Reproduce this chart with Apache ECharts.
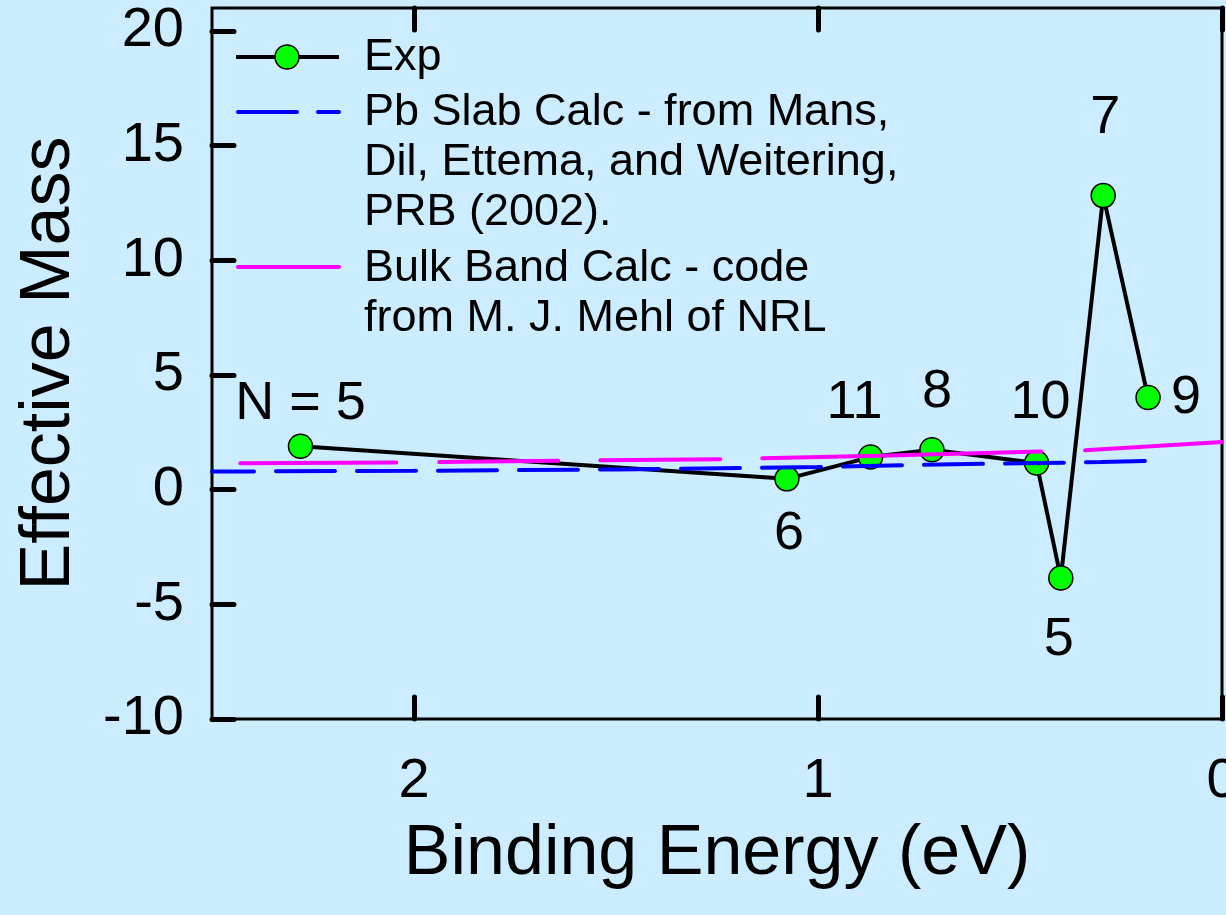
<!DOCTYPE html>
<html><head><meta charset="utf-8">
<script src="https://cdn.jsdelivr.net/npm/echarts@6/dist/echarts.min.js"></script>
<style>html,body{margin:0;padding:0;background:#CCECFF}#c{width:1226px;height:915px}</style>
</head><body><div id="c"></div>
<script>
// ---- data ----
const expEnergy = [2.281, 1.077, 0.870, 0.718, 0.459, 0.399, 0.294, 0.183];
const expMass   = [1.89, 0.47, 1.42, 1.74, 1.16, -3.85, 12.82, 4.02];
const expLabels = ['N = 5', '6', '11', '8', '10', '5', '7', '9'];
const slabEnergy = [2.5, 2.0, 1.5, 1.0, 0.75, 0.5, 0.3, 0.16];
const slabMass   = [0.79, 0.82, 0.88, 0.99, 1.08, 1.15, 1.20, 1.26];
const bulkEnergy = [2.43, 2.04, 1.64, 1.24, 0.85, 0.44, 0.345, 0];
const bulkMass   = [1.15, 1.18, 1.26, 1.33, 1.48, 1.67, 1.71, 2.08];
const xTickValues = [0, 1, 2];
const yTickValues = [-10, -5, 0, 5, 10, 15, 20];
const legendNames = ['Exp', 'Pb Slab Calc - from Mans,\nDil, Ettema, and Weitering,\nPRB (2002).', 'Bulk Band Calc - code\nfrom M. J. Mehl of NRL'];
const xTitle = 'Binding Energy (eV)';
const yTitle = 'Effective Mass';
const xMin = 0, xMax = 2.5, yMin = -10, yMax = 21;

// ---- styles ----
const labelOffsets = [[0,-42],[2,55],[-16,-54],[5,-58],[4,-60],[-2,62],[2,-78],[38,1]];
const FONT = '"Liberation Sans", Arial, sans-serif';
const GRID = {left: 212, right: 4, top: 8, bottom: 196};
const TICK_LEN = 22;

const chart = echarts.init(document.getElementById('c'), null, {renderer: 'canvas'});
const tickStyle = {color: '#000', width: 5, cap: 'round'};

chart.setOption({
  backgroundColor: '#CCECFF',
  animation: false,
  textStyle: {fontFamily: FONT, color: '#000'},
  grid: Object.assign({show: true, borderColor: '#000', borderWidth: 3,
    backgroundColor: 'transparent', containLabel: false, outerBoundsMode: 'none'}, GRID),
  xAxis: [{
    type: 'value', min: xMin, max: xMax, inverse: true, interval: 1, position: 'bottom',
    axisLine: {show: false, onZero: false},
    axisTick: {show: true, inside: true, length: TICK_LEN, lineStyle: tickStyle, customValues: xTickValues},
    axisLabel: {show: true, margin: 35, fontSize: 56, color: '#000', fontFamily: FONT, customValues: xTickValues},
    splitLine: {show: false},
    name: xTitle, nameLocation: 'middle', nameGap: 101,
    nameTextStyle: {fontSize: 70, color: '#000', fontFamily: FONT}
  }, {
    type: 'value', position: 'top', min: xMin, max: xMax, inverse: true, interval: 1,
    axisLine: {show: false, onZero: false},
    axisTick: {show: true, inside: true, length: TICK_LEN, lineStyle: tickStyle, customValues: xTickValues},
    axisLabel: {show: false},
    splitLine: {show: false}
  }],
  yAxis: {
    type: 'value', min: yMin, max: yMax, interval: 5, position: 'left',
    axisLine: {show: false, onZero: false},
    axisTick: {show: true, inside: true, length: TICK_LEN, lineStyle: tickStyle, customValues: yTickValues},
    axisLabel: {show: true, margin: 28, fontSize: 56, color: '#000', fontFamily: FONT, customValues: yTickValues},
    splitLine: {show: false},
    name: yTitle, nameLocation: 'middle', nameGap: 127,
    nameTextStyle: {fontSize: 70, color: '#000', fontFamily: FONT}
  },
  series: [{
    name: 'Exp', type: 'line', xAxisIndex: 0, yAxisIndex: 0,
    data: expEnergy.map((e, i) => ({value: [e, expMass[i]], label: {offset: labelOffsets[i]}})),
    lineStyle: {color: '#000', width: 4},
    symbol: 'circle', symbolSize: 24,
    itemStyle: {color: '#00FF00', borderColor: '#000', borderWidth: 1.5},
    label: {show: true, position: 'inside', fontSize: 54, color: '#000', fontFamily: FONT,
      formatter: p => expLabels[p.dataIndex]},
    z: 1
  }, {
    name: 'Slab', type: 'line', xAxisIndex: 0, yAxisIndex: 0,
    data: slabEnergy.map((e, i) => [e, slabMass[i]]),
    showSymbol: false, symbol: 'none',
    lineStyle: {color: '#0000FF', width: 4, type: [59, 22], dashOffset: 17, cap: 'round'},
    z: 5
  }, {
    name: 'Bulk', type: 'line', xAxisIndex: 0, yAxisIndex: 0,
    data: bulkEnergy.map((e, i) => [e, bulkMass[i]]),
    showSymbol: false, symbol: 'none',
    lineStyle: {color: '#FF00FF', width: 4, type: [156, 43, 119, 42, 120, 42, 279, 44, 400], cap: 'round'},
    z: 5
  }],
  graphic: [
    {type: 'line', shape: {x1: 236, y1: 57, x2: 339, y2: 57}, style: {stroke: '#000', lineWidth: 4}},
    {type: 'circle', shape: {cx: 287, cy: 57, r: 12}, style: {fill: '#00FF00', stroke: '#000', lineWidth: 1.5}},
    {type: 'line', shape: {x1: 238, y1: 112, x2: 339, y2: 112}, style: {stroke: '#0000FF', lineWidth: 4, lineDash: [59, 21], lineCap: 'round'}},
    {type: 'line', shape: {x1: 238, y1: 267, x2: 339, y2: 267}, style: {stroke: '#FF00FF', lineWidth: 4, lineCap: 'round'}},
    {type: 'text', x: 364, y: 33, style: {text: legendNames[0], font: '45px ' + FONT, fill: '#000', lineHeight: 50, verticalAlign: 'top'}},
    {type: 'text', x: 364, y: 88, style: {text: legendNames[1], font: '45px ' + FONT, fill: '#000', lineHeight: 50, verticalAlign: 'top'}},
    {type: 'text', x: 364, y: 244, style: {text: legendNames[2], font: '45px ' + FONT, fill: '#000', lineHeight: 50, verticalAlign: 'top'}}
  ]
});
</script></body></html>
